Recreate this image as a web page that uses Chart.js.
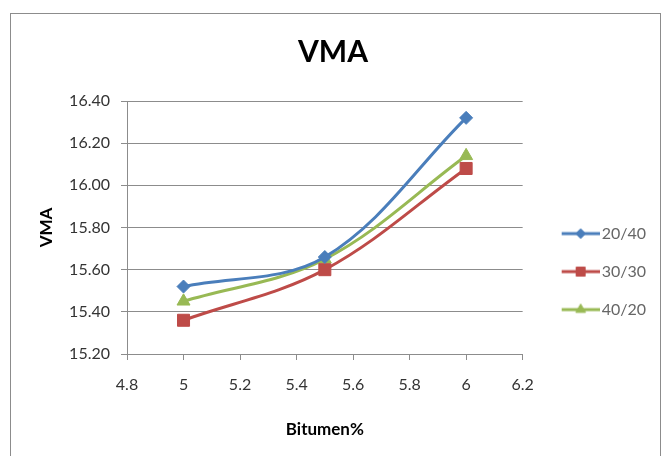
<!DOCTYPE html>
<html>
<head>
<meta charset="utf-8">
<script src="https://cdn.jsdelivr.net/npm/chart.js@4/dist/chart.umd.min.js"></script>
<style>
  html, body { margin: 0; padding: 0; background: #fff; }
  #wrap { position: relative; width: 666px; height: 456px; overflow: hidden; }
  #frame { position: absolute; left: 10px; top: 13px; width: 651px; height: 470px;
           border: 1px solid #8c8c8c; box-sizing: border-box; }
  canvas { position: absolute; left: 0; top: 0; }
</style>
</head>
<body>
<div id="wrap">
  <div id="frame"></div>
  <canvas id="c" width="666" height="456"></canvas>
</div>
<script>
// Bitumen content (%) and VMA for each aggregate blend
const bitumen = [5, 5.5, 6];
const vma2040 = [15.52, 15.66, 16.32];
const vma3030 = [15.36, 15.60, 16.08];
const vma4020 = [15.45, 15.65, 16.14];
const seriesNames = ['20/40', '30/30', '40/20'];
const xTickLabels = ['4.8', '5', '5.2', '5.4', '5.6', '5.8', '6', '6.2'];
const yTickLabels = ['15.20', '15.40', '15.60', '15.80', '16.00', '16.20', '16.40'];

const FONT = 'Lato, "Open Sans", sans-serif';
const colors = ['#4A7EBB', '#BE4B48', '#98B954'];
const styles = ['rectRot', 'rect', 'triangle'];
const radii = [6.5, 8.5, 7.5];

function points(ys) { return bitumen.map((x, i) => ({ x: x, y: ys[i] })); }

// small line-plus-marker swatch used as the legend symbol
function legendSymbol(color, style, r) {
  const c = document.createElement('canvas');
  c.width = 61; c.height = 18;
  const ctx = c.getContext('2d');
  ctx.strokeStyle = color; ctx.fillStyle = color; ctx.lineWidth = 3;
  ctx.beginPath(); ctx.moveTo(23, 9); ctx.lineTo(61, 9); ctx.stroke();
  ctx.lineWidth = 1;
  Chart.helpers.drawPoint(ctx, { pointStyle: style, radius: r, borderWidth: 1, rotation: 0 }, 42, 9);
  return c;
}

const allSeries = [vma2040, vma3030, vma4020];
const datasets = allSeries.map((ys, i) => ({
  label: seriesNames[i],
  data: points(ys),
  borderColor: colors[i],
  backgroundColor: colors[i],
  borderWidth: 3,
  pointStyle: styles[i],
  pointRadius: radii[i],
  pointHoverRadius: radii[i],
  pointBorderWidth: 1,
  tension: 0.35,
  fill: false
}));

const legendSymbols = datasets.map((d, i) => legendSymbol(colors[i], styles[i], radii[i] * 0.75));

new Chart(document.getElementById('c'), {
  type: 'line',
  data: { datasets: datasets },
  options: {
    responsive: false,
    animation: false,
    layout: { padding: { left: 10, right: 10, top: 0, bottom: 12 } },
    plugins: {
      title: {
        display: true, text: 'VMA', color: '#000',
        font: { family: FONT, size: 30, weight: 'bold' },
        padding: { top: 34, bottom: 31 }
      },
      legend: {
        position: 'right',
        // empty legend title only pushes the entries down
        title: { display: true, text: ' ', font: { size: 1 }, padding: { top: 0, bottom: 98 } },
        labels: {
          usePointStyle: true,
          pointStyleWidth: 49,
          padding: 22,
          color: '#000',
          font: { family: FONT, size: 16 },
          generateLabels: (chart) => chart.data.datasets.map((d, i) => ({
            text: d.label,
            pointStyle: legendSymbols[i],
            fillStyle: colors[i],
            strokeStyle: colors[i],
            lineWidth: 0,
            datasetIndex: i
          }))
        }
      },
      tooltip: { enabled: false }
    },
    scales: {
      x: {
        type: 'linear',
        min: 4.8, max: 6.2,
        afterBuildTicks: (s) => { s.ticks = xTickLabels.map(t => ({ value: parseFloat(t) })); },
        ticks: {
          callback: (v, i) => xTickLabels[i],
          color: '#333', font: { family: FONT, size: 16 }, padding: 15, maxRotation: 0
        },
        grid: { drawOnChartArea: false, drawTicks: true, tickLength: 6, color: '#8c8c8c' },
        border: { display: true, color: '#8c8c8c', width: 1 },
        title: {
          display: true, text: 'Bitumen%', color: '#000',
          font: { family: FONT, size: 17, weight: 'bold' },
          padding: { top: 4, bottom: 4 }
        },
        afterFit: (s) => { s.height = 90; }
      },
      y: {
        min: 15.2, max: 16.4,
        afterBuildTicks: (s) => { s.ticks = yTickLabels.map(t => ({ value: parseFloat(t) })); },
        ticks: {
          callback: (v, i) => yTickLabels[i],
          color: '#333', font: { family: FONT, size: 16 }, padding: 11
        },
        grid: { drawTicks: true, tickLength: 6, color: '#8c8c8c' },
        border: { display: true, color: '#8c8c8c', width: 1 },
        title: {
          display: true, text: 'VMA', color: '#000',
          font: { family: FONT, size: 17, weight: 'bold' },
          padding: { top: 26, bottom: 0 }
        },
        afterFit: (s) => { s.width = 117; }
      }
    }
  }
});
</script>
</body>
</html>
